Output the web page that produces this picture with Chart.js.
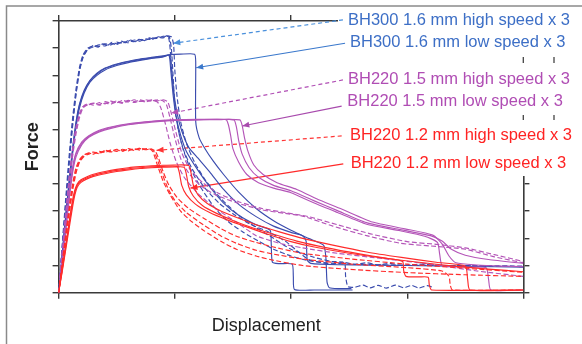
<!DOCTYPE html>
<html><head><meta charset="utf-8">
<script src="https://cdn.jsdelivr.net/npm/chart.js@4.4.1/dist/chart.umd.min.js"></script>
<style>html,body{margin:0;padding:0;background:#fff;}</style>
</head><body>
<canvas id="c" width="582" height="344"></canvas>
<script>
// ---- data (x: displacement units, y: force units; no printed tick labels) ----
const xTicks = [0, 1, 2, 3, 4];
const yTicks = [0, 1, 2, 3, 4, 5, 6, 7, 8, 9, 10];
const categories = [
  "BH300 1.6 mm high speed x 3",
  "BH300 1.6 mm low speed x 3",
  "BH220 1.5 mm high speed x 3",
  "BH220 1.5 mm low speed x 3",
  "BH220 1.2 mm high speed x 3",
  "BH220 1.2 mm low speed x 3"
];
// BH300 1.6 mm high speed (dashed, 3 repeats)
const bh300HighA = [[0,0],[0.03,1.7],[0.06,3.4],[0.09,5.0],[0.12,6.4],[0.15,7.5],[0.18,8.3],[0.21,8.75],[0.25,9.0],[0.3,9.08],[0.34,9.04],[0.38,9.16],[0.42,9.1],[0.46,9.22],[0.5,9.16],[0.54,9.26],[0.58,9.2],[0.62,9.3],[0.66,9.24],[0.7,9.34],[0.74,9.28],[0.78,9.38],[0.82,9.33],[0.86,9.42],[0.9,9.4],[0.94,9.46],[0.955,9.2],[0.97,8.4],[0.99,7.4],[1.01,6.5],[1.04,5.8],[1.08,5.2],[1.15,4.55],[1.25,3.9],[1.38,3.3],[1.52,2.85],[1.66,2.5],[1.8,2.25],[1.95,1.9],[2.05,1.55],[2.15,1.22],[2.25,1.12],[2.35,1.05],[2.45,1.12],[2.55,1.04],[2.65,1.1],[2.75,1.02],[2.85,1.08],[2.95,1.0],[3.1,1.05],[3.3,1.0],[3.6,1.0],[4.0,0.98]];
const bh300HighB = [[0,0],[0.03,1.6],[0.06,3.2],[0.09,4.8],[0.12,6.2],[0.15,7.35],[0.18,8.2],[0.21,8.7],[0.25,8.95],[0.3,9.05],[0.35,9.12],[0.4,9.08],[0.45,9.18],[0.5,9.13],[0.55,9.24],[0.6,9.2],[0.65,9.3],[0.7,9.26],[0.75,9.34],[0.8,9.32],[0.85,9.4],[0.9,9.38],[0.95,9.44],[0.97,9.0],[0.985,8.0],[1.0,7.0],[1.03,6.0],[1.07,5.3],[1.13,4.6],[1.22,3.9],[1.33,3.2],[1.45,2.65],[1.58,2.25],[1.72,1.9],[1.85,1.6],[2.0,1.35],[2.15,1.18],[2.3,1.1],[2.5,1.05],[2.8,1.02],[3.3,1.0],[4.0,0.96]];
const bh300HighC = [[0,0],[0.03,1.5],[0.06,3.1],[0.09,4.7],[0.12,6.1],[0.15,7.3],[0.18,8.15],[0.21,8.65],[0.25,8.95],[0.3,9.1],[0.35,9.06],[0.4,9.16],[0.45,9.12],[0.5,9.22],[0.55,9.18],[0.6,9.28],[0.65,9.24],[0.7,9.32],[0.75,9.3],[0.8,9.38],[0.85,9.36],[0.9,9.44],[0.97,9.42],[0.99,9.1],[1.0,8.2],[1.02,7.2],[1.05,6.3],[1.1,5.5],[1.17,4.8],[1.27,4.1],[1.4,3.45],[1.55,2.85],[1.7,2.4],[1.85,2.0],[2.0,1.6],[2.2,1.3],[2.35,1.15],[2.46,1.1],[2.47,0.6],[2.49,0.22],[2.55,0.2],[2.62,0.28],[2.68,0.18],[2.75,0.27],[2.82,0.17],[2.9,0.28],[2.97,0.18],[3.04,0.27],[3.1,0.17],[3.17,0.26],[3.22,0.2]];
// BH300 1.6 mm low speed (solid)
const bh300LowA = [[0,0],[0.03,1.3],[0.06,2.7],[0.09,4.0],[0.12,5.2],[0.15,6.2],[0.18,6.9],[0.22,7.4],[0.27,7.8],[0.33,8.05],[0.4,8.25],[0.5,8.4],[0.6,8.5],[0.7,8.58],[0.8,8.64],[0.9,8.7],[0.96,8.76],[1.05,8.78],[1.17,8.78],[1.18,8.5],[1.18,6.3],[1.21,5.7],[1.26,5.3],[1.33,4.85],[1.42,4.35],[1.55,3.7],[1.7,3.1],[1.85,2.65],[2.0,2.3],[2.15,2.0],[2.28,1.75],[2.3,1.3],[2.31,0.4],[2.33,0.18],[2.42,0.15],[2.52,0.15]];
const bh300LowB = [[0,0],[0.03,1.2],[0.06,2.6],[0.09,3.9],[0.12,5.1],[0.15,6.1],[0.18,6.8],[0.22,7.35],[0.27,7.75],[0.33,8.0],[0.4,8.2],[0.5,8.36],[0.6,8.47],[0.7,8.55],[0.8,8.62],[0.9,8.68],[0.955,8.74],[0.97,8.3],[0.99,7.4],[1.02,6.6],[1.06,5.95],[1.12,5.35],[1.2,4.95],[1.3,4.45],[1.42,3.8],[1.55,3.25],[1.7,2.8],[1.85,2.45],[2.0,2.22],[2.1,2.1],[2.13,1.9],[2.14,1.2],[2.17,1.08],[2.4,1.03],[3.0,1.0],[3.5,0.97],[4.0,0.94]];
const bh300LowC = [[0,0],[0.03,1.4],[0.06,2.8],[0.09,4.1],[0.12,5.3],[0.15,6.3],[0.18,6.95],[0.22,7.45],[0.27,7.82],[0.33,8.08],[0.4,8.27],[0.5,8.42],[0.6,8.52],[0.7,8.6],[0.8,8.66],[0.9,8.72],[0.95,8.74],[0.965,8.2],[0.985,7.3],[1.01,6.5],[1.05,5.8],[1.1,5.2],[1.2,4.5],[1.3,3.9],[1.42,3.3],[1.55,2.85],[1.7,2.5],[1.82,2.3],[1.83,1.8],[1.84,1.12],[1.9,1.07],[2.01,1.05],[2.02,0.6],[2.03,0.12],[2.2,0.1],[2.53,0.1]];
// BH220 1.5 mm high speed (dashed)
const bh220t15HighA = [[0,0],[0.03,1.4],[0.06,2.8],[0.09,4.1],[0.12,5.2],[0.15,6.0],[0.18,6.55],[0.21,6.85],[0.25,6.95],[0.3,6.9],[0.35,7.0],[0.4,6.95],[0.45,7.05],[0.5,6.99],[0.55,7.08],[0.6,7.02],[0.65,7.1],[0.7,7.04],[0.75,7.1],[0.8,7.06],[0.85,7.1],[0.9,7.06],[0.93,6.9],[0.96,6.42],[1.0,5.7],[1.05,4.95],[1.12,4.4],[1.22,3.95],[1.35,3.6],[1.54,3.3],[1.75,3.05],[1.95,2.92],[2.1,2.82],[2.36,2.45],[2.65,2.1],[2.94,1.82],[3.2,1.72],[3.5,1.6],[3.75,1.32],[4.0,1.1]];
const bh220t15HighB = [[0,0],[0.03,1.3],[0.06,2.6],[0.09,3.9],[0.12,5.0],[0.15,5.85],[0.18,6.45],[0.21,6.8],[0.25,6.92],[0.3,6.98],[0.35,6.93],[0.4,7.03],[0.45,6.98],[0.5,7.06],[0.55,7.0],[0.6,7.08],[0.65,7.03],[0.7,7.1],[0.75,7.05],[0.8,7.1],[0.85,7.06],[0.9,7.1],[0.94,7.02],[0.97,6.6],[1.01,5.9],[1.06,5.15],[1.13,4.55],[1.24,4.05],[1.38,3.65],[1.55,3.35],[1.75,3.1],[1.95,2.95],[2.15,2.8],[2.4,2.5],[2.7,2.15],[3.0,1.88],[3.25,1.78],[3.5,1.65],[3.75,1.4],[4.0,1.15]];
const bh220t15HighC = [[0,0],[0.03,1.5],[0.06,2.9],[0.09,4.2],[0.12,5.3],[0.15,6.1],[0.18,6.6],[0.21,6.85],[0.25,6.9],[0.3,6.96],[0.35,6.9],[0.4,6.98],[0.45,6.94],[0.5,7.02],[0.55,6.97],[0.6,7.05],[0.65,7.0],[0.7,7.06],[0.75,7.02],[0.8,7.07],[0.85,7.02],[0.88,6.8],[0.92,6.2],[0.96,5.5],[1.01,4.85],[1.08,4.25],[1.2,3.65],[1.35,3.1],[1.53,2.6],[1.7,2.1],[1.9,1.82],[2.1,1.65],[2.4,1.45],[2.8,1.25],[3.2,1.05],[3.6,0.8],[4.0,0.6]];
// BH220 1.5 mm low speed (solid)
const bh220t15LowA = [[0,0],[0.03,1.1],[0.06,2.3],[0.09,3.5],[0.12,4.5],[0.15,5.1],[0.2,5.5],[0.26,5.75],[0.35,5.95],[0.45,6.08],[0.6,6.2],[0.8,6.3],[1.0,6.35],[1.2,6.37],[1.44,6.37],[1.46,6.2],[1.48,5.8],[1.5,5.3],[1.55,4.8],[1.62,4.35],[1.72,4.05],[1.85,3.85],[2.0,3.68],[2.2,3.3],[2.4,2.95],[2.65,2.52],[2.94,2.28],[3.15,2.08],[3.26,1.85],[3.28,1.4],[3.3,1.0],[3.4,0.96],[3.55,0.94],[3.68,0.92],[3.7,0.5],[3.72,0.1],[4.0,0.1]];
const bh220t15LowB = [[0,0],[0.03,1.0],[0.06,2.2],[0.09,3.4],[0.12,4.4],[0.15,5.0],[0.2,5.45],[0.26,5.72],[0.35,5.92],[0.45,6.05],[0.6,6.18],[0.8,6.28],[1.0,6.34],[1.2,6.36],[1.4,6.37],[1.51,6.36],[1.53,6.1],[1.55,5.6],[1.58,5.1],[1.64,4.6],[1.72,4.25],[1.85,3.95],[2.0,3.75],[2.2,3.38],[2.4,3.02],[2.65,2.58],[2.94,2.32],[3.2,2.1],[3.3,1.9],[3.38,1.6],[3.5,1.38],[3.7,1.22],[4.0,1.08]];
const bh220t15LowC = [[0,0],[0.03,1.2],[0.06,2.4],[0.09,3.6],[0.12,4.6],[0.15,5.15],[0.2,5.55],[0.26,5.78],[0.35,5.98],[0.45,6.1],[0.6,6.22],[0.8,6.31],[1.0,6.36],[1.2,6.38],[1.4,6.38],[1.56,6.36],[1.58,6.15],[1.6,5.7],[1.63,5.2],[1.68,4.7],[1.76,4.35],[1.88,4.05],[2.05,3.8],[2.25,3.4],[2.45,3.05],[2.7,2.6],[2.98,2.35],[3.22,2.12],[3.3,1.8],[3.36,1.35],[3.42,1.1],[3.6,1.02],[3.8,0.98],[4.0,0.96]];
// BH220 1.2 mm high speed (dashed)
const bh220t12HighA = [[0,0],[0.03,1.0],[0.06,2.0],[0.09,3.0],[0.12,3.9],[0.15,4.5],[0.18,4.85],[0.22,5.05],[0.26,5.15],[0.3,5.1],[0.35,5.2],[0.4,5.16],[0.45,5.25],[0.5,5.2],[0.55,5.28],[0.6,5.22],[0.65,5.3],[0.7,5.25],[0.75,5.3],[0.8,5.28],[0.83,5.22],[0.86,4.95],[0.9,4.45],[0.95,3.95],[1.02,3.5],[1.12,3.1],[1.245,2.75],[1.4,2.35],[1.53,2.08],[1.7,1.85],[1.85,1.68],[2.1,1.45],[2.5,1.25],[3.0,1.05],[3.5,0.9],[4.0,0.75]];
const bh220t12HighB = [[0,0],[0.03,0.9],[0.06,1.9],[0.09,2.85],[0.12,3.75],[0.15,4.4],[0.18,4.8],[0.22,5.02],[0.26,5.1],[0.3,5.16],[0.35,5.12],[0.4,5.22],[0.45,5.18],[0.5,5.26],[0.55,5.2],[0.6,5.28],[0.65,5.24],[0.7,5.3],[0.75,5.26],[0.8,5.3],[0.82,5.2],[0.85,4.9],[0.89,4.4],[0.94,3.85],[1.0,3.4],[1.1,2.95],[1.245,2.5],[1.4,2.08],[1.53,1.82],[1.7,1.56],[1.85,1.42],[2.1,1.24],[2.5,1.06],[3.0,0.92],[3.3,0.8],[3.36,0.6],[3.37,0.3],[3.39,0.1],[4.0,0.1]];
const bh220t12HighC = [[0,0],[0.03,1.05],[0.06,2.1],[0.09,3.1],[0.12,4.0],[0.15,4.6],[0.18,4.9],[0.22,5.08],[0.26,5.12],[0.3,5.18],[0.35,5.14],[0.4,5.24],[0.45,5.2],[0.5,5.28],[0.55,5.22],[0.6,5.3],[0.65,5.26],[0.7,5.32],[0.75,5.28],[0.78,5.3],[0.81,5.2],[0.85,4.7],[0.9,4.1],[0.96,3.6],[1.05,3.0],[1.15,2.6],[1.245,2.3],[1.4,1.88],[1.53,1.6],[1.7,1.35],[1.82,1.22],[2.1,1.0],[2.5,0.86],[3.0,0.74],[3.5,0.66],[4.0,0.6]];
// BH220 1.2 mm low speed (solid)
const bh220t12LowA = [[0,0],[0.03,0.8],[0.06,1.65],[0.09,2.5],[0.12,3.3],[0.14,3.7],[0.16,3.95],[0.19,4.1],[0.24,4.22],[0.3,4.32],[0.4,4.42],[0.5,4.5],[0.6,4.56],[0.7,4.6],[0.8,4.63],[0.9,4.65],[1.02,4.65],[1.04,4.4],[1.06,3.95],[1.1,3.6],[1.18,3.25],[1.3,2.95],[1.45,2.68],[1.6,2.45],[1.8,2.15],[2.0,1.88],[2.2,1.68],[2.5,1.45],[2.8,1.27],[3.1,1.12],[3.4,0.98],[3.7,0.87],[4.0,0.77]];
const bh220t12LowB = [[0,0],[0.03,0.75],[0.06,1.55],[0.09,2.35],[0.12,3.15],[0.14,3.6],[0.16,3.88],[0.19,4.05],[0.24,4.18],[0.3,4.28],[0.4,4.38],[0.5,4.46],[0.6,4.52],[0.7,4.57],[0.8,4.6],[0.9,4.62],[1.0,4.63],[1.08,4.62],[1.1,4.35],[1.12,3.9],[1.16,3.55],[1.24,3.2],[1.36,2.92],[1.5,2.66],[1.65,2.42],[1.85,2.15],[2.05,1.9],[2.3,1.66],[2.6,1.42],[2.8,1.28],[2.96,1.15],[2.97,0.8],[2.99,0.6],[3.1,0.58],[3.18,0.57],[3.19,0.3],[3.21,0.1],[4.0,0.1]];
const bh220t12LowC = [[0,0],[0.03,0.85],[0.06,1.7],[0.09,2.6],[0.12,3.4],[0.14,3.78],[0.16,4.0],[0.19,4.15],[0.24,4.26],[0.3,4.36],[0.4,4.46],[0.5,4.54],[0.6,4.6],[0.7,4.64],[0.8,4.67],[0.9,4.69],[1.0,4.7],[1.12,4.68],[1.14,4.4],[1.16,3.95],[1.2,3.6],[1.28,3.28],[1.4,3.0],[1.55,2.74],[1.7,2.5],[1.9,2.24],[2.1,2.0],[2.35,1.76],[2.65,1.5],[2.95,1.3],[3.25,1.12],[3.5,0.98],[3.52,0.5],[3.54,0.1],[4.0,0.1]];
// annotation arrows: tail (near label) -> head (on curves), in data units
const arrowTails = [[2.447,10.04],[2.465,9.18],[2.447,7.83],[2.436,6.87],[2.436,5.77],[2.45,4.74]];
const arrowHeads = [[0.987,9.18],[1.184,8.28],[0.969,6.61],[1.581,6.135],[0.843,5.24],[1.135,3.85]];

// ---- styling ----
const BLUE = '#3b4cae', MAG = '#b455b8', RED = '#ff2b2b';
const labelColors = ['#3d6fc6','#3d6fc6','#b04db4','#b04db4','#ff2323','#ff2323'];
const arrowColors = ['#4a90dc','#3a78cc','#b14fb5','#a84aad','#ff3535','#ff2a2a'];
const labelPos = [[348,20],[350,42.7],[348,79],[347.3,101.7],[350,135.7],[350.7,163.3]];

const pts = a => a.map(p => ({x:p[0], y:p[1]}));
function curve(arr, color, dashed){
  return {data: pts(arr), borderColor: color, borderWidth: 1.15, borderDash: dashed ? [5,2.5] : [],
          pointRadius: 0, showLine: true, tension: 0.2, fill: false};
}
const groups = [
  [[bh220t12LowA,bh220t12LowB,bh220t12LowC], RED, false],
  [[bh220t12HighA,bh220t12HighB,bh220t12HighC], RED, true],
  [[bh220t15LowA,bh220t15LowB,bh220t15LowC], MAG, false],
  [[bh220t15HighA,bh220t15HighB,bh220t15HighC], MAG, true],
  [[bh300LowA,bh300LowB,bh300LowC], BLUE, false],
  [[bh300HighA,bh300HighB,bh300HighC], BLUE, true]
];
const datasets = [];
groups.forEach(g => g[0].forEach(arr => datasets.push(curve(arr, g[1], g[2]))));
arrowTails.forEach((t,i) => {
  datasets.push({data: pts([t, arrowHeads[i]]), borderColor: arrowColors[i], borderWidth: 1.2,
    borderDash: i % 2 === 0 ? [4,3] : [], pointRadius: 0, showLine: true, tension: 0,
    clip: false, isArrow: true, arrowIndex: i});
});

const decor = {
  id: 'decor',
  beforeDatasetsDraw(chart){
    const ctx = chart.ctx; ctx.save();
    ctx.fillStyle = '#fff'; ctx.fillRect(338, 9, 250, 167);
    ctx.restore();
  },
  afterDatasetsDraw(chart){
    const ctx = chart.ctx;
    chart.data.datasets.forEach((ds, di) => {
      if (!ds.isArrow) return;
      const m = chart.getDatasetMeta(di);
      const t = m.data[0], h = m.data[1];
      const ang = Math.atan2(h.y - t.y, h.x - t.x);
      ctx.save(); ctx.translate(h.x, h.y); ctx.rotate(ang);
      ctx.fillStyle = arrowColors[ds.arrowIndex];
      ctx.beginPath(); ctx.moveTo(0,0); ctx.lineTo(-7,-3); ctx.lineTo(-7,3); ctx.closePath(); ctx.fill();
      ctx.restore();
    });
  },
  afterDraw(chart){
    const ctx = chart.ctx; ctx.save();
    // outer frame (left, top)
    ctx.strokeStyle = '#8a8a8a'; ctx.lineWidth = 1.5;
    ctx.beginPath(); ctx.moveTo(6.5, 344); ctx.lineTo(6.5, 6); ctx.lineTo(582, 6); ctx.stroke();
    // small leftover marks
    ctx.strokeStyle = '#444'; ctx.lineWidth = 1.3;
    [[523.3,57,63],[554,57,63],[523.3,115,120],[554,115,120]].forEach(s => {
      ctx.beginPath(); ctx.moveTo(s[0], s[1]); ctx.lineTo(s[0], s[2]); ctx.stroke();
    });
    // labels
    ctx.font = '16.5px "Liberation Sans", Arial, sans-serif';
    ctx.textBaseline = 'middle'; ctx.textAlign = 'left';
    categories.forEach((c,i) => { ctx.fillStyle = labelColors[i]; ctx.fillText(c, labelPos[i][0], labelPos[i][1]); });
    // axis titles
    ctx.fillStyle = '#222';
    ctx.font = '18px "Liberation Sans", Arial, sans-serif';
    ctx.textAlign = 'center'; ctx.textBaseline = 'alphabetic';
    ctx.fillText('Displacement', 266.3, 330.5);
    ctx.save(); ctx.translate(38, 146.7); ctx.rotate(-Math.PI/2);
    ctx.font = 'bold 18px "Liberation Sans", Arial, sans-serif';
    ctx.fillText('Force', 0, 0); ctx.restore();
    ctx.restore();
  }
};

function axis(pos, min, max){
  return {type:'linear', position: pos, min: min, max: max,
    ticks: {display:false, stepSize:1},
    grid: {drawOnChartArea:false, drawTicks:true, tickLength:6, color:'#3a3a3a', lineWidth:1.4},
    border: {display:true, color:'#3a3a3a', width:1.6}};
}
Chart.defaults.font.family = '"Liberation Sans", Arial, sans-serif';
new Chart(document.getElementById('c'), {
  type: 'scatter',
  data: {datasets},
  options: {
    responsive:false, animation:false, devicePixelRatio:1,
    layout: {padding: {left:52.6, right:52.6, top:15, bottom:45.3}},
    plugins: {legend:{display:false}, tooltip:{enabled:false}, title:{display:false}},
    scales: {
      x: axis('bottom', xTicks[0], xTicks[xTicks.length-1]),
      x2: axis('top', xTicks[0], xTicks[xTicks.length-1]),
      y: axis('left', yTicks[0], yTicks[yTicks.length-1]),
      y2: axis('right', yTicks[0], yTicks[yTicks.length-1])
    }
  },
  plugins: [decor]
});
</script>
</body></html>
